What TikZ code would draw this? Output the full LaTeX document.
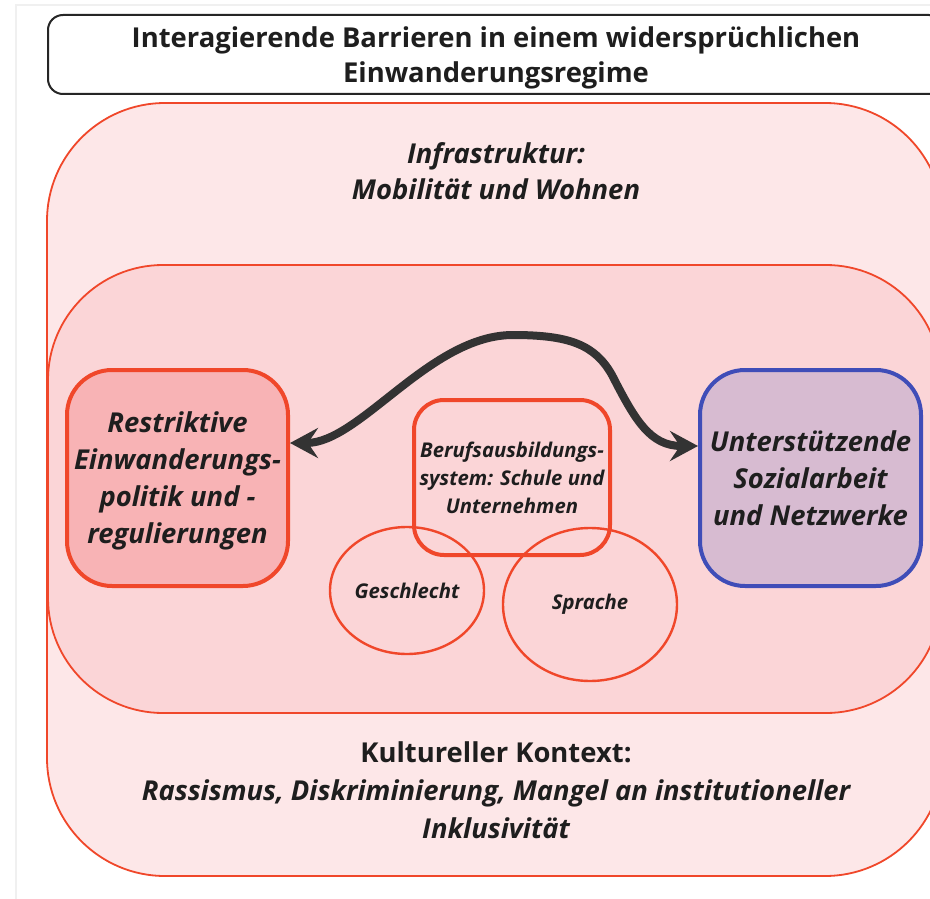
\documentclass[tikz,border=0pt]{standalone}
\usepackage{fontspec}
\setmainfont{Open Sans}
\usepackage{xcolor}
\usetikzlibrary{arrows.meta,shapes.geometric}
\definecolor{outerbg}{HTML}{FDE7E8}
\definecolor{innerbg}{HTML}{FBD5D7}
\definecolor{restrbg}{HTML}{F8B3B5}
\definecolor{supportbg}{HTML}{D7BBD1}
\definecolor{barrierred}{HTML}{F0472A}
\definecolor{supportblue}{HTML}{3F4DB8}
\definecolor{arrowgray}{HTML}{333333}
\definecolor{textdark}{HTML}{1E1E1E}

\begin{document}
\begin{tikzpicture}[x=1pt, y=-1pt,
    region/.style={draw=barrierred, line width=1.8pt, rounded corners=#1},
    bigtext/.style={align=center, text=textdark, font=\fontsize{27.4}{38}\selectfont\bfseries},
    factorbox/.style={draw=#1, line width=4pt, rounded corners=45pt, minimum width=221pt,
        minimum height=216pt, align=center, text=textdark, inner sep=1pt,
        font=\fontsize{27.4}{37}\selectfont\bfseries\itshape},
    smalltext/.style={align=center, text=textdark, font=\fontsize{20.3}{28}\selectfont\bfseries\itshape},
    circ/.style={ellipse, draw=barrierred, line width=2.4pt, inner sep=0pt}]
    % Frame
    \clip (0,0) rectangle (930,899);
    \fill[white] (0,0) rectangle (930,899);
    \draw[gray!12, line width=2pt] (16,899) -- (16,5) -- (930,5);

    % Title
    \node (title) [draw=black!85, line width=2pt, rounded corners=15pt, minimum width=896pt,
        minimum height=79pt, bigtext, text depth=0pt, font=\fontsize{27.4}{35}\selectfont\bfseries] at (496,54.5)
        {Interagierende Barrieren in einem widersprüchlichen\\Einwanderungsregime};

    % Nested regions
    \draw[region=118pt, fill=outerbg] (47,103) rectangle (943,876);
    \draw[region=115pt, fill=innerbg] (48,265) rectangle (941,713);

    % Region labels
    \node (infra) [bigtext, font=\fontsize{27.4}{36}\selectfont\bfseries\itshape] at (496,171)
        {Infrastruktur:\\Mobilität und Wohnen};
    \node (kultur) [bigtext] at (496,790)
        {Kultureller Kontext:\\{\itshape Rassismus, Diskriminierung, Mangel an institutioneller}\\{\itshape Inklusivität}};

    % Barriers and support
    \node (restr) [factorbox=barrierred, fill=restrbg, text depth=0pt] at (177.5,478)
        {Restriktive\\Einwanderungs-\\politik und -\\regulierungen};
    \node (support) [factorbox=supportblue, fill=supportbg] at (810.5,478)
        {Unterstützende\\Sozialarbeit\\und Netzwerke};
    \node (vet) [draw=barrierred, line width=4pt, rounded corners=30pt, minimum width=196pt,
        minimum height=155pt, smalltext] at (512,477.5)
        {Berufsausbildungs-\\system: Schule und\\Unternehmen};

    % Overlapping factors
    \node (gender) [circ, minimum width=154pt, minimum height=127pt, smalltext] at (407,590.5) {Geschlecht};
    \node (lang) [circ, minimum width=174pt, minimum height=153pt, smalltext] at (590,604.5) {Sprache};

    % Interaction
    \draw[arrowgray, line width=8pt, {Stealth[length=28pt,width=30pt,inset=10pt]}-{Stealth[length=28pt,width=30pt,inset=10pt]}]
        ([yshift=35pt]restr.east) .. controls (360,443) and (430,335) .. (513,335)
        .. controls (570,335) and (595,345) .. (612,375)
        .. controls (635,420) and (650,446) .. ([yshift=32pt]support.west);
\end{tikzpicture}
\end{document}
